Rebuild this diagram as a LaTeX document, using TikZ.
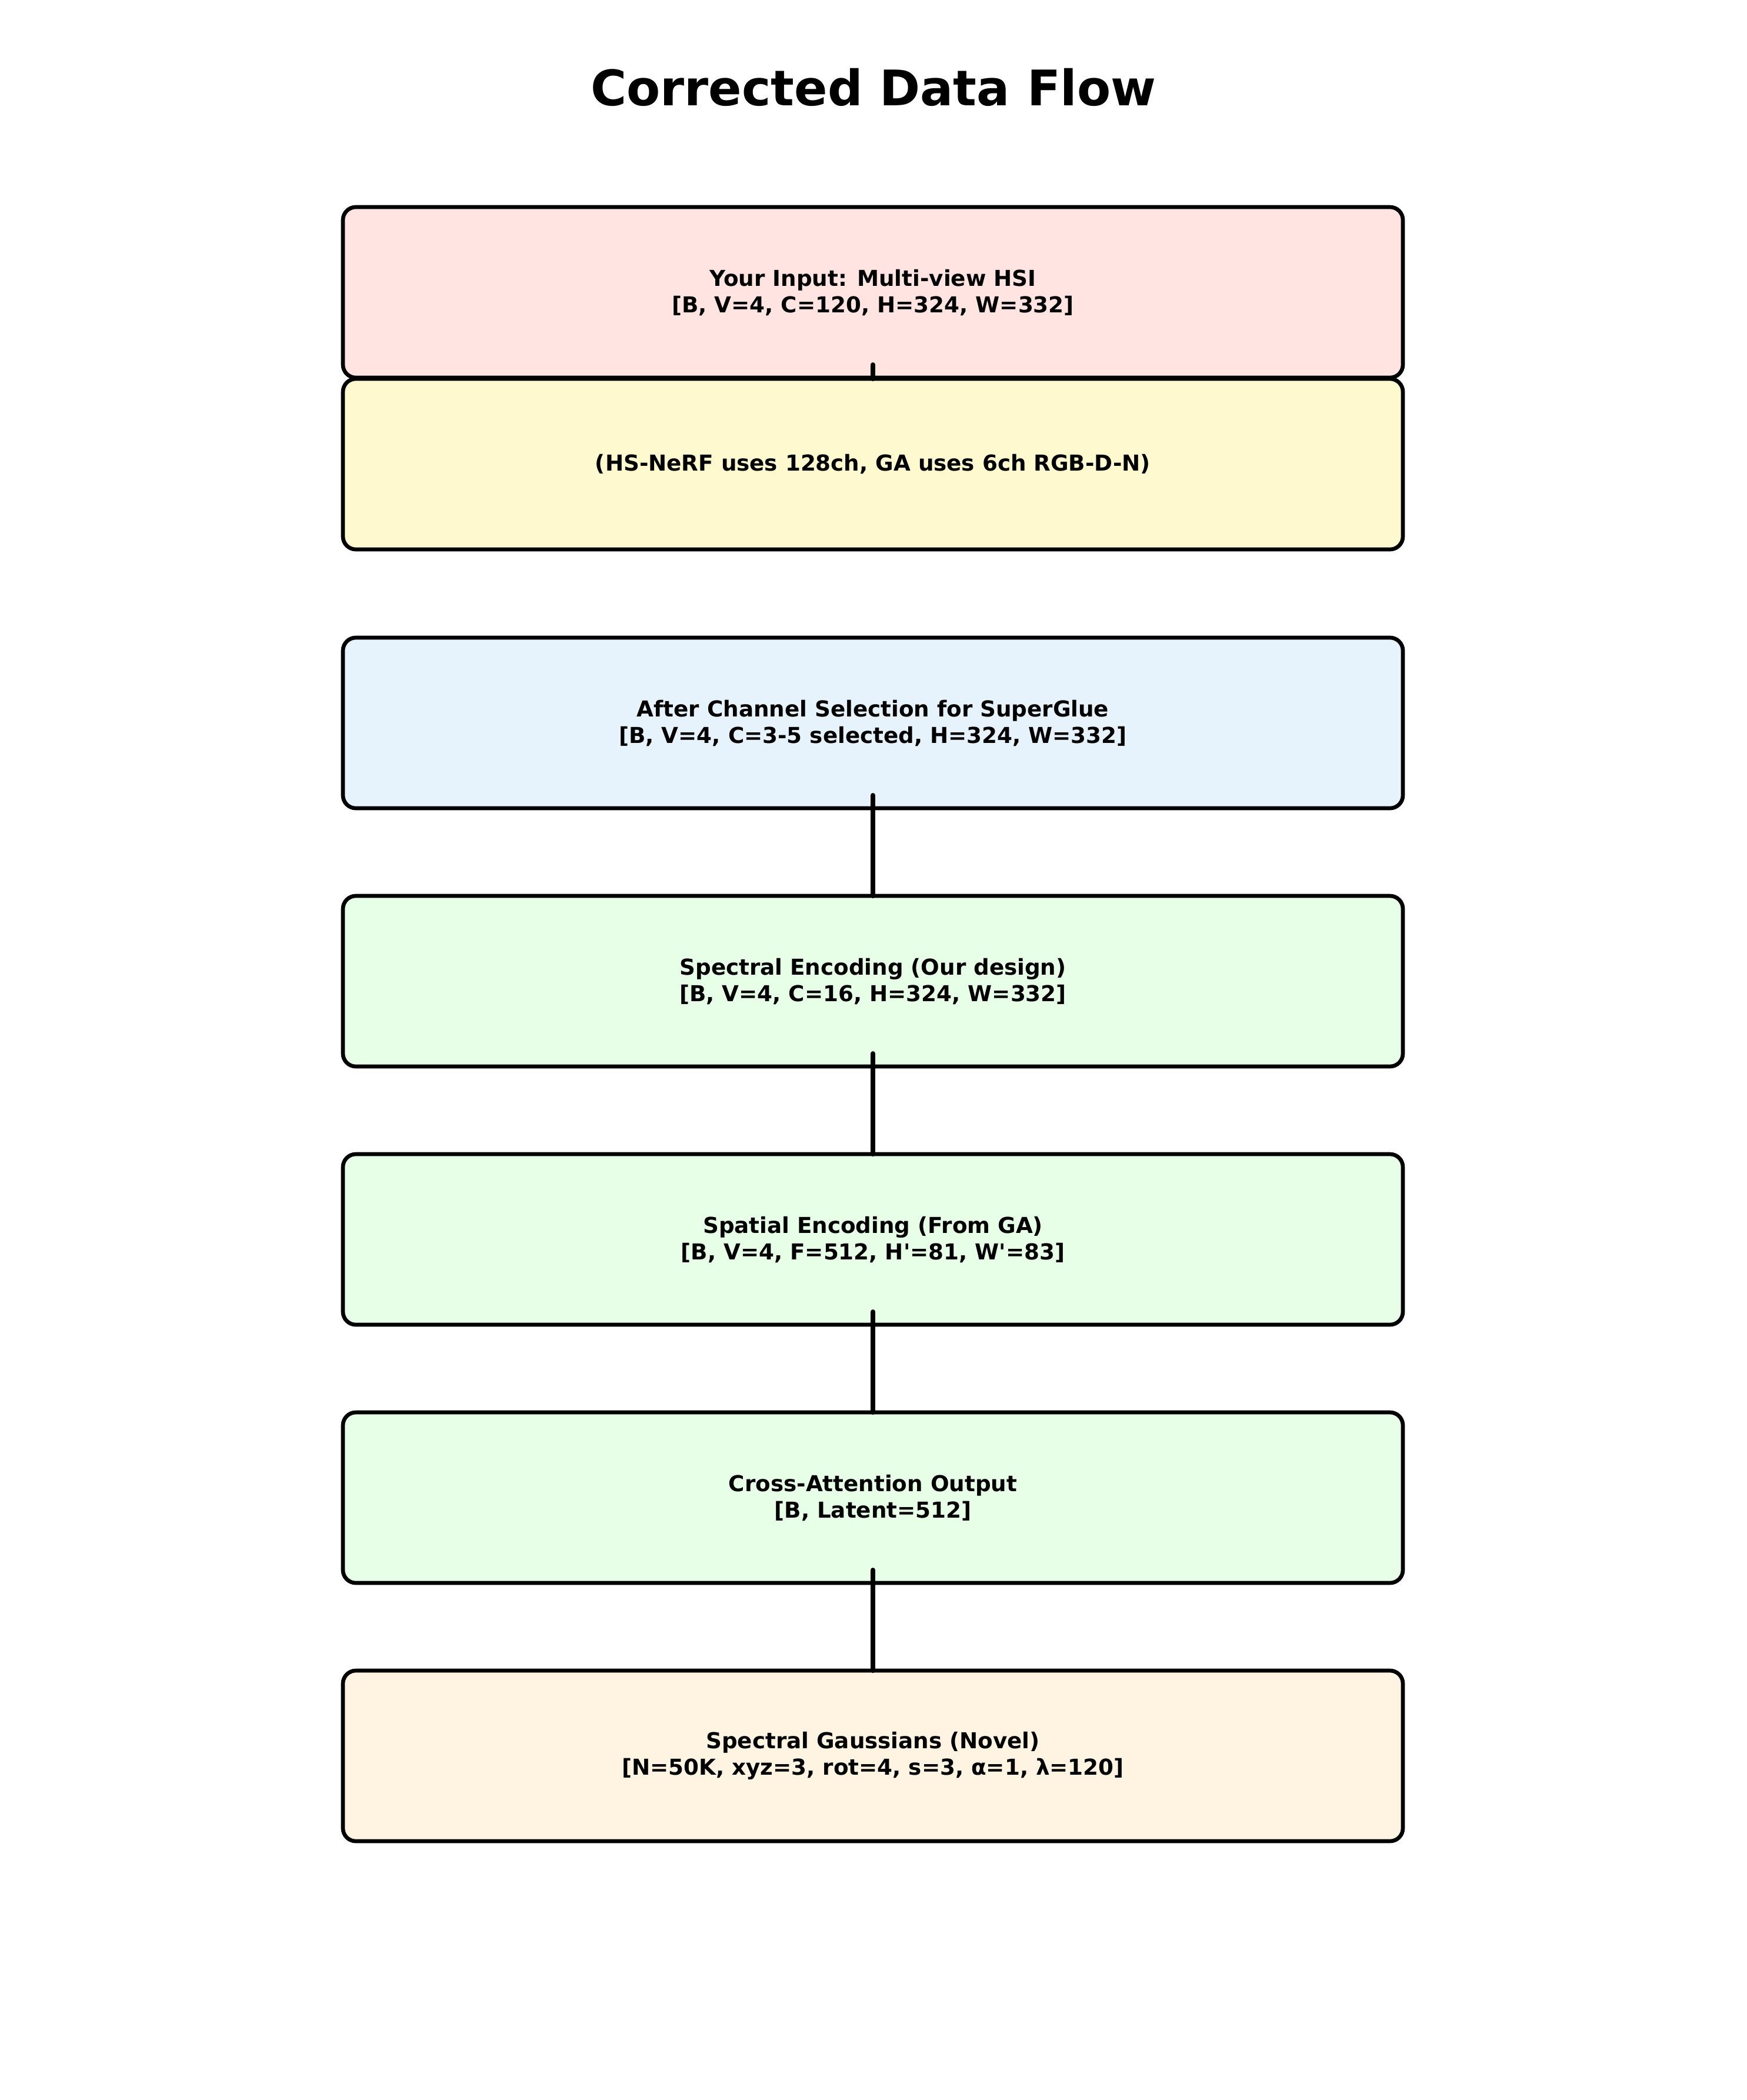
\documentclass[tikz,border=0pt]{standalone}
\usepackage{fontspec}
\setmainfont{DejaVu Sans}
\definecolor{inputfill}{HTML}{FFE4E1}
\definecolor{notefill}{HTML}{FFF9CF}
\definecolor{selectfill}{HTML}{E6F3FC}
\definecolor{encodefill}{HTML}{E6FFE6}
\definecolor{gaussfill}{HTML}{FFF3E2}
\begin{document}
\begin{tikzpicture}[x=1cm,y=1cm,
  stage/.style={draw=black, line width=1.9pt, rounded corners=0.22cm,
    minimum width=18.02cm, minimum height=2.90cm, outer sep=0pt, inner sep=0pt,
    align=center, font=\fontsize{10.6}{12.8}\selectfont\bfseries},
  flow/.style={draw=black, line width=2.25pt, line cap=round}]
\useasboundingbox (0,0) rectangle (29.70,-35.70);

\node[font=\fontsize{23.7}{28}\selectfont\bfseries] (title) at (14.85,-1.48) {Corrected Data Flow};

\node[stage, fill=inputfill] (b1) at (14.84,-4.97)
  {Your Input: Multi-view HSI\\{[B, V=4, C=120, H=324, W=332]}};
\node[stage, fill=notefill] (b2) at (14.84,-7.89)
  {(HS-NeRF uses 128ch, GA uses 6ch RGB-D-N)};
\node[stage, fill=selectfill] (b3) at (14.84,-12.29)
  {After Channel Selection for SuperGlue\\{[B, V=4, C=3-5 selected, H=324, W=332]}};
\node[stage, fill=encodefill] (b4) at (14.84,-16.68)
  {Spectral Encoding (Our design)\\{[B, V=4, C=16, H=324, W=332]}};
\node[stage, fill=encodefill] (b5) at (14.84,-21.07)
  {Spatial Encoding (From GA)\\{[B, V=4, F=512, H\textquotesingle=81, W\textquotesingle=83]}};
\node[stage, fill=encodefill] (b6) at (14.84,-25.46)
  {Cross-Attention Output\\{[B, Latent=512]}};
\node[stage, fill=gaussfill] (b7) at (14.84,-29.85)
  {Spectral Gaussians (Novel)\\{[N=50K, xyz=3, rot=4, s=3, α=1, λ=120]}};

\draw[flow] ([yshift=0.22cm]b1.south) -- (b2.north);
\draw[flow] ([yshift=0.22cm]b3.south) -- (b4.north);
\draw[flow] ([yshift=0.22cm]b4.south) -- (b5.north);
\draw[flow] ([yshift=0.22cm]b5.south) -- (b6.north);
\draw[flow] ([yshift=0.22cm]b6.south) -- (b7.north);
\end{tikzpicture}
\end{document}
